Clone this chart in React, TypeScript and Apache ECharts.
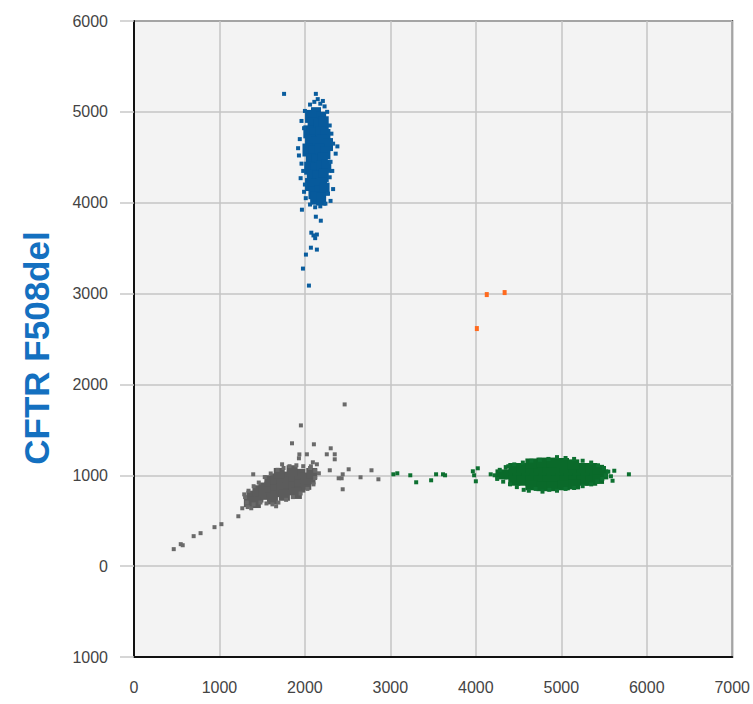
import React, { useEffect, useRef } from "react";
import * as echarts from "echarts";

const xTicks = [0, 1000, 2000, 3000, 4000, 5000, 6000, 7000];
const yName = "CFTR F508del";

const blueCore: number[][] = [
  [2060, 4950], [2130, 4980], [2190, 4930], [2090, 4870], [2160, 4850], [2220, 4880],
  [2040, 4780], [2110, 4760], [2180, 4770], [2240, 4740], [2060, 4680], [2130, 4660],
  [2200, 4680], [2270, 4640], [2030, 4580], [2100, 4560], [2170, 4580], [2240, 4550],
  [2070, 4470], [2140, 4460], [2210, 4480], [2050, 4380], [2120, 4370], [2190, 4390],
  [2250, 4400], [2080, 4290], [2150, 4280], [2220, 4300], [2060, 4200], [2130, 4190],
  [2200, 4210], [2100, 4110], [2170, 4120], [2230, 4150], [2120, 4050], [2190, 4040],
];
const blueEdge: number[][] = [
  [1756, 5198], [2128, 5198], [2060, 5080], [2110, 5110], [2180, 5090], [2230, 5060],
  [2000, 5010], [2260, 5000], [2150, 5140], [2210, 5120], [1960, 4900], [1990, 4820],
  [2290, 4850], [2310, 4760], [1940, 4700], [2330, 4650], [1920, 4600], [2380, 4620],
  [2360, 4540], [1930, 4520], [1960, 4430], [2300, 4450], [1980, 4350], [2320, 4350],
  [1950, 4270], [2290, 4280], [2000, 4200], [2330, 4150], [1990, 4120], [2270, 4100],
  [2010, 4050], [2300, 4020], [2060, 3980], [2180, 3960], [2240, 3990], [2120, 3950],
  [1965, 3923], [2128, 3846], [2186, 3802], [2075, 3670], [2100, 3640], [2140, 3650],
  [2120, 3610], [2070, 3505], [2140, 3484], [2012, 3429], [1977, 3275], [2047, 3088],
];

const grayCore: number[][] = [
  [1380, 770], [1450, 760], [1450, 830], [1520, 790], [1520, 860], [1590, 800],
  [1590, 870], [1590, 940], [1660, 820], [1660, 890], [1660, 960], [1730, 830],
  [1730, 900], [1730, 970], [1800, 840], [1800, 910], [1800, 980], [1870, 850],
  [1870, 920], [1870, 990], [1940, 870], [1940, 940], [1940, 1010], [2010, 900],
  [2010, 970], [2060, 960], [2080, 1020], [1700, 1020], [1850, 1050], [1620, 740],
  [1760, 780], [1900, 800], [1350, 710], [1420, 700],
];
const grayEdge: number[][] = [
  [1300, 760], [1320, 700], [1330, 650], [1400, 680], [1480, 700], [1550, 690],
  [1620, 680], [1690, 700], [1780, 730], [1860, 760], [1950, 800], [2030, 850],
  [2100, 900], [2120, 970], [2120, 1050], [2060, 1080], [1980, 1100], [1900, 1110],
  [1820, 1100], [1750, 1080], [1680, 1060], [1600, 1020], [1530, 980], [1460, 920],
  [1400, 880], [1340, 830], [1290, 790],
  [2465, 1780], [1953, 1549], [1849, 1352], [2105, 1341], [2302, 1297], [2256, 1231],
  [2349, 1231], [2349, 1176], [1930, 1187], [1935, 1230], [2023, 1231], [2093, 1143],
  [2140, 1121], [2070, 1099], [2163, 1022], [2291, 1055], [2442, 1011], [2512, 1066],
  [2395, 967], [2430, 967], [2442, 846], [2651, 978], [2779, 1055], [2860, 956],
  [1395, 1011], [1733, 1121], [1267, 637], [1372, 637], [1221, 549], [1663, 659],
  [1023, 462], [942, 429], [779, 363], [698, 330], [547, 242], [570, 230], [465, 187],
];

const greenCore: number[][] = [
  [4300, 1010], [4400, 1010], [4500, 1010], [4600, 1010], [4700, 1010], [4800, 1010],
  [4900, 1010], [5000, 1010], [5100, 1010], [5200, 1010], [5300, 1010], [5400, 1010],
  [5480, 1010],
  [4450, 940], [4550, 940], [4650, 940], [4750, 940], [4850, 940], [4950, 940],
  [5050, 940], [5150, 940], [5250, 940], [5350, 940], [5430, 960],
  [4450, 1080], [4550, 1080], [4650, 1080], [4750, 1080], [4850, 1080], [4950, 1080],
  [5050, 1080], [5150, 1080], [5250, 1080], [5350, 1080], [5430, 1060],
  [4650, 890], [4780, 880], [4900, 880], [5030, 890], [5150, 900],
  [4650, 1130], [4780, 1140], [4900, 1140], [5020, 1135], [5140, 1120],
];
const greenEdge: number[][] = [
  [4220, 1000], [4250, 960], [4280, 1060], [4320, 930], [4350, 1090], [4400, 900],
  [4480, 870], [4560, 840], [4620, 830], [4700, 850], [4780, 820], [4860, 840],
  [4950, 830], [5050, 850], [5150, 860], [5250, 880], [5350, 900], [5420, 930],
  [5480, 960], [5520, 1000], [5550, 1040], [5500, 1080], [5430, 1110], [5350, 1140],
  [5250, 1160], [5150, 1180], [5050, 1190], [4950, 1200], [4850, 1180], [4750, 1170],
  [4650, 1160], [4550, 1140], [4450, 1120], [4380, 1100],
  [3035, 1011], [3081, 1022], [3233, 1000], [3302, 923], [3477, 945], [3535, 1011],
  [3616, 1011], [3640, 1000], [3965, 1044], [3980, 1000], [4000, 934], [4023, 1077],
  [4174, 1011], [5581, 989], [5600, 940], [5620, 1050], [5791, 1011],
];

const orangePts: number[][] = [
  [4128, 2989], [4337, 3011], [4012, 2615],
];

const labelFont = "'Liberation Sans Narrow', 'Liberation Sans', sans-serif";

export default function App() {
  const ref = useRef<HTMLDivElement>(null);
  useEffect(() => {
    if (!ref.current) return;
    const chart = echarts.init(ref.current, null, { renderer: "svg" });
    const mk = (data: number[][], color: string, size: number[], z: number) => ({
      type: "scatter",
      data,
      symbol: "rect",
      symbolSize: size,
      itemStyle: { color, opacity: 1 },
      z,
      silent: true,
    });
    chart.setOption({
      animation: false,
      grid: {
        left: 134,
        top: 21,
        right: 17,
        bottom: 47,
        show: true,
        backgroundColor: "#f3f3f3",
        borderColor: "#444",
        borderWidth: 2,
      },
      xAxis: {
        type: "value",
        min: xTicks[0],
        max: xTicks[xTicks.length - 1],
        interval: 1000,
        axisLine: { show: true, onZero: false, lineStyle: { color: "#111", width: 2 } },
        axisTick: { show: false },
        axisLabel: {
          color: "#444",
          fontSize: 16,
          fontFamily: labelFont,
          margin: 22,
          formatter: (v: number) => String(v),
        },
        splitLine: { show: true, lineStyle: { color: "#c4c4c4", width: 1.5 } },
      },
      yAxis: {
        type: "value",
        min: -1000,
        max: 6000,
        interval: 1000,
        name: yName,
        nameLocation: "middle",
        nameRotate: 90,
        nameGap: 80,
        nameTextStyle: {
          color: "#1470c0",
          fontSize: 35,
          fontWeight: "bold",
          fontFamily: "'Liberation Sans', Arial, sans-serif",
          padding: [0, 18, 0, 0],
        },
        axisLine: { show: true, onZero: false, lineStyle: { color: "#111", width: 2 } },
        axisTick: { show: true, length: 14, lineStyle: { color: "#c8c8c8", width: 1.5 } },
        axisLabel: {
          color: "#444",
          fontSize: 16,
          fontFamily: labelFont,
          margin: 26,
          formatter: (v: number) => (v < 0 ? String(-v) : String(v)),
        },
        splitLine: { show: true, lineStyle: { color: "#c4c4c4", width: 1.5 } },
      },
      series: [
        mk(grayCore, "#5c5c5c", [11, 11], 2),
        mk(grayEdge, "#6a6a6a", [4, 4], 3),
        mk(greenCore, "#0a6a2a", [12, 10], 2),
        mk(greenEdge, "#0d7030", [4, 4], 3),
        mk(blueCore, "#075a9c", [10, 13], 2),
        mk(blueEdge, "#0a5d9e", [4, 4], 3),
        mk(orangePts, "#ff6a1e", [4, 5], 3),
      ],
    });
    return () => chart.dispose();
  }, []);
  return (
    <div
      ref={ref}
      style={{ position: "fixed", left: 0, top: 0, width: 753, height: 704, background: "#fff" }}
    />
  );
}
